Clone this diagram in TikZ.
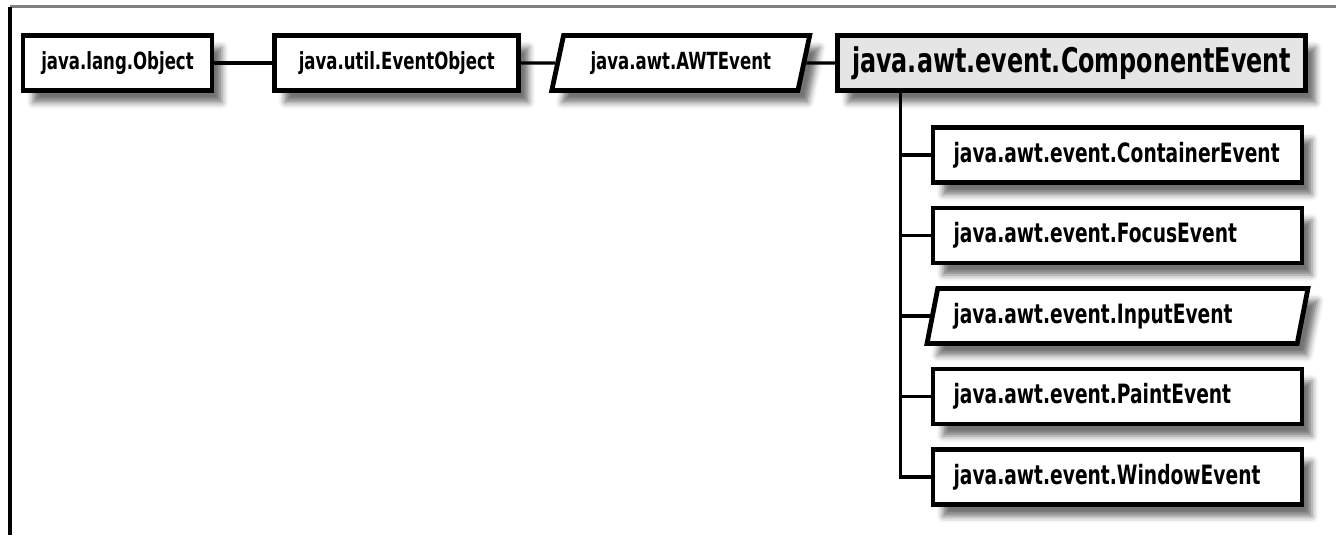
\documentclass[tikz,border=0pt]{standalone}
\usepackage{fontspec}
\newfontfamily\classfont[FakeStretch=0.78]{DejaVu Sans Condensed}
\usetikzlibrary{positioning, shapes.geometric, shadows.blur, calc}

\begin{document}
\begin{tikzpicture}[
    x=0.5pt, y=-0.5pt,
    node distance=10.35pt and 29pt,
    link/.style={
        line width=1.6pt
    },
    cls/.style={
        rectangle,
        fill=white,
        draw,
        line width=2.4pt,
        minimum height=27.5pt,
        inner xsep=0pt,
        font=\classfont\bfseries\fontsize{11.8}{13}\selectfont,
        blur shadow={shadow xshift=5pt, shadow yshift=-6pt, shadow blur radius=3pt, shadow opacity=55}
    },
    abstract/.style={
        cls,
        trapezium,
        trapezium left angle=76,
        trapezium right angle=104,
        trapezium stretches=true
    },
    base/.style={
        cls,
        fill=gray!20,
        font=\classfont\bfseries\fontsize{17}{19}\selectfont
    },
    sub/.style={
        cls,
        minimum width=184.5pt,
        text width=164pt,
        align=left,
        font=\classfont\bfseries\fontsize{13.3}{15}\selectfont
    }
]
    \useasboundingbox (0,0) rectangle (1336,535);

    % frame
    \draw[gray, line width=1.5pt] (10,7) -- (1336,7);
    \draw[line width=2pt] (10,7) -- (10,535);

    % --- Top row: inheritance chain ---
    \node[cls, minimum width=94.5pt] (obj) at (117.5,63) {java.lang.Object};
    \node[cls, right=of obj, minimum width=122pt] (evobj) {java.util.EventObject};
    \node[abstract, right=17pt of evobj, minimum width=130pt] (awt) {java.awt.AWTEvent};
    \node[base, right=14.5pt of awt, minimum width=234pt] (comp) {java.awt.event.ComponentEvent};

    \draw[link] (obj) -- (evobj);
    \draw[link] (evobj) -- (awt);
    \draw[link] (awt) -- (comp);

    % --- Subclasses ---
    \node[sub] (cont) at (1117.5,155) {java.awt.event.ContainerEvent};
    \node[sub, below=of cont] (focus) {java.awt.event.FocusEvent};
    \node[abstract, below=of focus, minimum width=190.5pt, text width=164pt, align=left,
        font=\classfont\bfseries\fontsize{13.3}{15}\selectfont] (input) {java.awt.event.InputEvent};
    \node[sub, below=of input] (paint) {java.awt.event.PaintEvent};
    \node[sub, below=of paint] (win) {java.awt.event.WindowEvent};

    % trunk
    \coordinate (trunk) at ([xshift=32.5pt]comp.south west);
    \draw[link] (trunk) |- (win.west);
    \foreach \c in {cont, focus, input, paint}
        \draw[link] (trunk |- \c.west) -- (\c.west);

\end{tikzpicture}
\end{document}
